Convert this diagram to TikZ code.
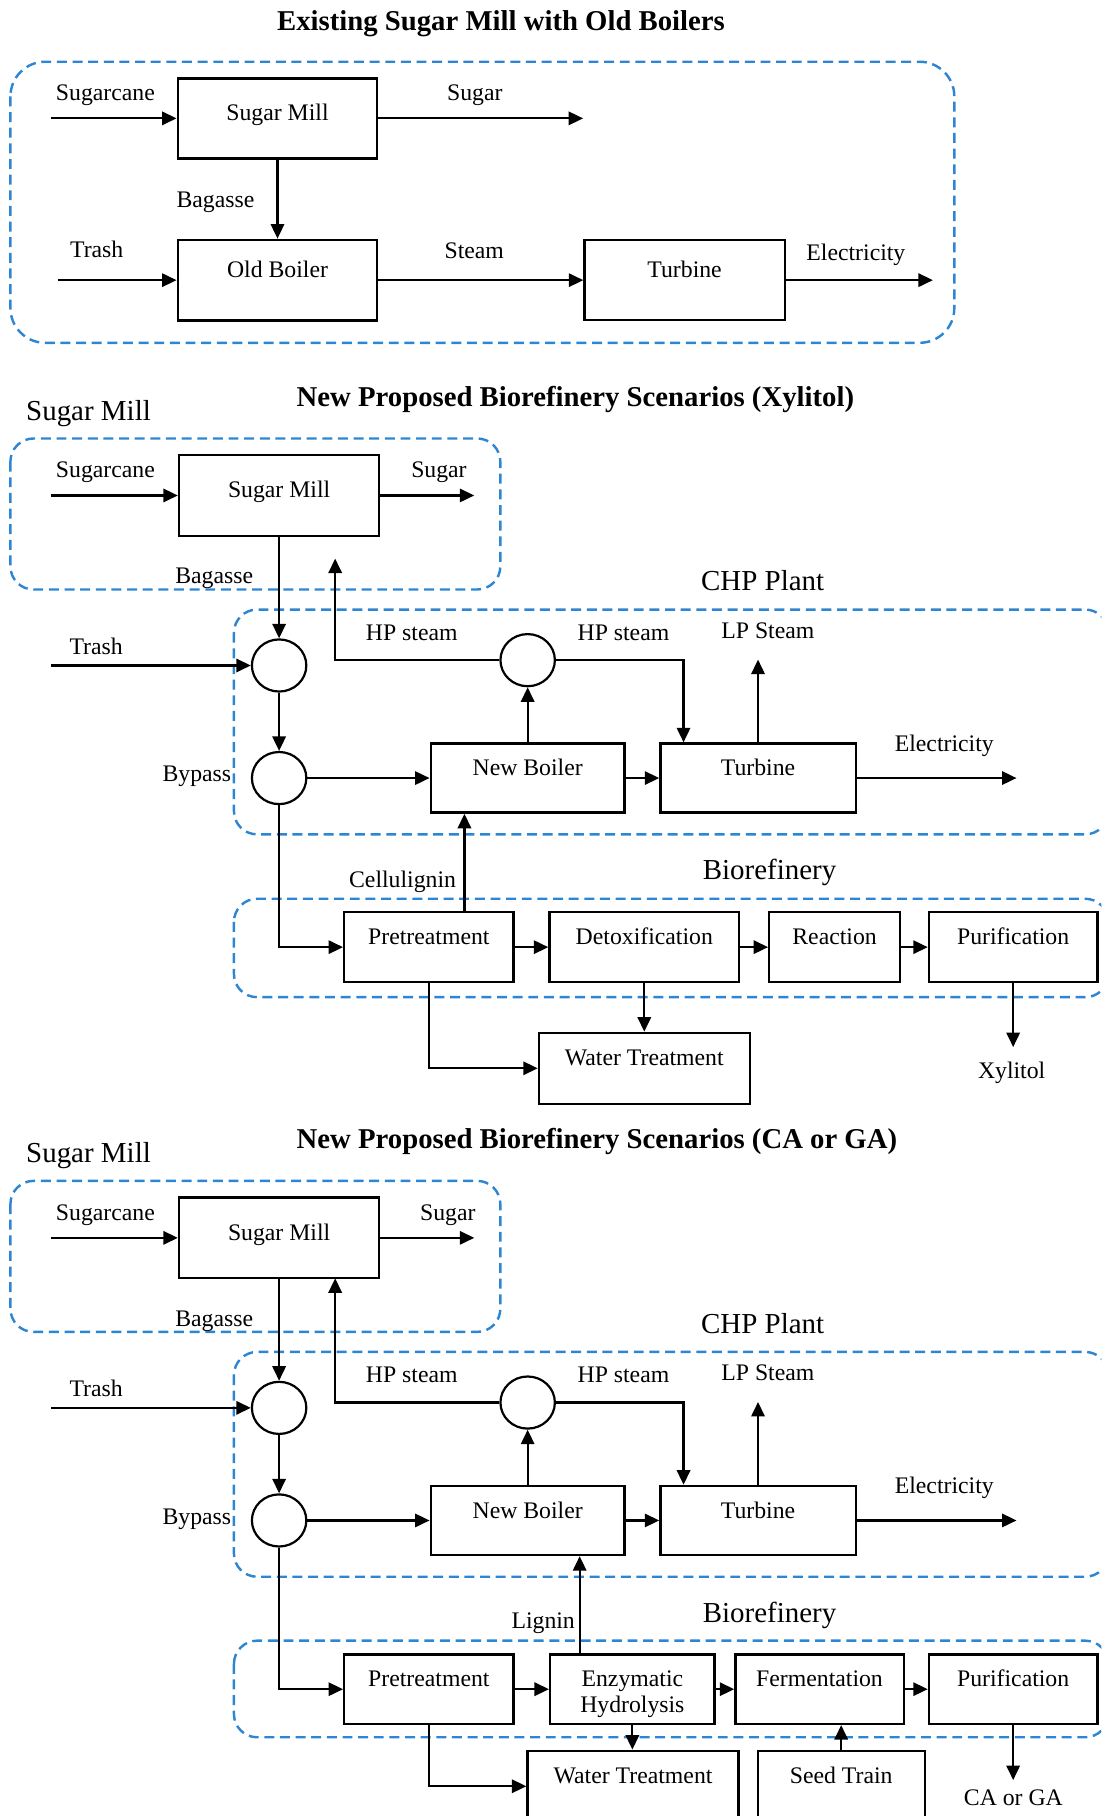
\documentclass[tikz,border=0pt]{standalone}
\usepackage{fontspec}
\setmainfont{Liberation Serif}
\usetikzlibrary{arrows.meta,shapes.geometric}
\definecolor{zoneblue}{RGB}{46,134,210}
\newcommand\bodyfont{\fontsize{20.5}{22.5}\selectfont}
\newcommand\areafont{\fontsize{25}{28}\selectfont}
\newcommand\headfont{\fontsize{24.8}{28}\selectfont\bfseries}
\tikzset{
  unit/.style={draw, line width=2pt, inner sep=0pt, font=\bodyfont,
    text height=13pt, text depth=17pt},
  millbox/.style={unit, text height=15pt, text depth=11pt},
  mixer/.style={draw, ellipse, line width=1.9pt, inner sep=0pt,
    minimum width=47pt, minimum height=45pt},
  pipe/.style={line width=1.9pt},
  flow/.style={pipe, -{Triangle[length=12.5pt,width=11.5pt]}},
  zone/.style={draw=zoneblue, line width=2.1pt, dash pattern=on 8.6pt off 4.9pt,
    rounded corners=20pt},
  tag/.style={font=\bodyfont, anchor=base, inner sep=0pt},
  area/.style={font=\areafont, anchor=base, inner sep=0pt},
  heading/.style={font=\headfont, anchor=base, inner sep=0pt},
}
\begin{document}
\begin{tikzpicture}[x=1pt, y=-1pt]
\useasboundingbox (0,0) rectangle (951,1568);
\clip (0,0) rectangle (951,1568);

% existing mill
\node[heading] (head0) at (432.6,26.5) {Existing Sugar Mill with Old Boilers};
\draw[zone, rounded corners=30pt] (9,53.3) rectangle (824,296);
\node[millbox, minimum width=172.3pt, minimum height=69.1pt] (mill0) at (239.6,102.2) {Sugar Mill};
\node[unit, minimum width=172.3pt, minimum height=69.7pt] (oldboiler) at (239.6,241.9) {Old Boiler};
\node[unit, minimum width=172.9pt, minimum height=69pt] (turb0) at (591.1,241.9) {Turbine};
\coordinate (cane0) at (44.2,102.2);
\coordinate (sugar0) at (503.5,102.2);
\coordinate (trash0) at (49.7,241.9);
\coordinate (elec0) at (805.5,241.9);
\draw[flow] (cane0) -- (mill0.west);
\draw[flow] (mill0.east) -- (sugar0);
\draw[flow] (mill0.south) -- (oldboiler.north);
\draw[flow] (trash0) -- (oldboiler.west);
\draw[flow] (oldboiler.east) -- (turb0.west);
\draw[flow] (turb0.east) -- (elec0);
\node[tag] (t-cane0) at (91,86.5) {Sugarcane};
\node[tag] (t-sugar0) at (410,87) {Sugar};
\node[tag] (t-bag0) at (186,179) {Bagasse};
\node[tag] (t-trash0) at (83.5,222) {Trash};
\node[tag] (t-steam0) at (409.5,223) {Steam};
\node[tag] (t-elec0) at (739,224.5) {Electricity};

% sugar mill and CHP plant of both scenarios
\foreach \s/\dy/\goal/\sx/\ry in {x/0/Xylitol/379/482.3, c/641/CA or GA/386.7/462.7}{
\begin{scope}[shift={(0,\dy)}]
  \node[heading, anchor=base west] (head\s) at (256,351) {New Proposed Biorefinery Scenarios (\goal)};
  \node[area, anchor=base west] (a-mill\s) at (22.4,363) {Sugar Mill};
  \node[area] (a-chp\s) at (658.5,510) {CHP Plant};
  \draw[zone] (9,378.6) rectangle (432,509);
  \draw[zone] (202,526.3) rectangle (957,720.4);
  \node[millbox, minimum width=172.9pt, minimum height=69.7pt] (mill\s) at (241,427.8) {Sugar Mill};
  \node[mixer] (mixa\s) at (241,574.6) {};
  \node[mixer] (mixb\s) at (241,671.8) {};
  \node[mixer] (split\s) at (455.6,570) {};
  \node[unit, minimum width=167.4pt, minimum height=59.7pt] (boiler\s) at (455.6,671.8) {New Boiler};
  \node[unit, minimum width=168.6pt, minimum height=59.7pt] (turb\s) at (654.5,671.8) {Turbine};
  \coordinate (cane\s) at (44.3,427.8);
  \coordinate (sugar\s) at (409.5,427.8);
  \coordinate (trash\s) at (44.3,574.6);
  \coordinate (elec\s) at (877.7,671.8);
  \coordinate (lp\s) at (654.5,569.5);
  \coordinate (ret\s) at (289.4,\ry);
  \draw[flow] (cane\s) -- (mill\s.west);
  \draw[flow] (mill\s.east) -- (sugar\s);
  \draw[flow] (mill\s.south) -- (mixa\s.north);
  \draw[flow] (trash\s) -- (mixa\s.west);
  \draw[flow] (mixa\s.south) -- (mixb\s.north);
  \draw[flow] (mixb\s.east) -- (boiler\s.west);
  \draw[flow] (boiler\s.east) -- (turb\s.west);
  \draw[flow] (turb\s.east) -- (elec\s);
  \draw[flow] (boiler\s.north) -- (split\s.south);
  \draw[flow] (split\s.east) -| ([xshift=-64.3pt]turb\s.north);
  \draw[flow] (split\s.west) -| (ret\s);
  \draw[flow] (turb\s.north) -- (lp\s);
  \node[tag] (t-cane\s) at (91,412.5) {Sugarcane};
  \node[tag] (t-sugar\s) at (\sx,412.5) {Sugar};
  \node[tag] (t-bag\s) at (185,504) {Bagasse};
  \node[tag] (t-trash\s) at (83,565) {Trash};
  \node[tag] (t-bypass\s) at (170,675) {Bypass};
  \node[tag] (t-hpa\s) at (355.5,553) {HP steam};
  \node[tag] (t-hpb\s) at (538.3,553) {HP steam};
  \node[tag] (t-lp\s) at (663,551) {LP Steam};
  \node[tag] (t-elec\s) at (815.3,648.7) {Electricity};
\end{scope}
}

% xylitol biorefinery
\node[area] (a-biox) at (664.5,759.5) {Biorefinery};
\draw[zone] (202,776) rectangle (957,861);
\node[unit, minimum width=146.2pt, minimum height=60.5pt] (pretx) at (370.3,817.8) {Pretreatment};
\node[unit, minimum width=163.8pt, minimum height=60.5pt] (detox) at (556.3,817.8) {Detoxification};
\node[unit, minimum width=112.8pt, minimum height=60.5pt] (react) at (720.6,817.8) {Reaction};
\node[unit, minimum width=145.5pt, minimum height=60.5pt] (purx) at (874.8,817.8) {Purification};
\node[unit, minimum width=182pt, minimum height=61.3pt] (wtx) at (556.3,922.4) {Water Treatment};
\coordinate (cell) at (401,0);
\coordinate (xyl) at (874.8,904.1);
\draw[flow] (mixbx.south) |- (pretx.west);
\draw[flow] (pretx.north -| cell) -- (boilerx.south -| cell);
\draw[flow] (pretx.east) -- (detox.west);
\draw[flow] (detox.east) -- (react.west);
\draw[flow] (react.east) -- (purx.west);
\draw[flow] (purx.south) -- (xyl);
\draw[flow] (pretx.south) |- (wtx.west);
\draw[flow] (detox.south) -- (wtx.north);
\node[tag] (t-cell) at (347.6,766) {Cellulignin};
\node[tag] (t-xyl) at (873.5,931.5) {Xylitol};

% CA or GA biorefinery
\node[area] (a-bioc) at (664.5,1400.7) {Biorefinery};
\draw[zone] (202,1416.6) rectangle (957,1500);
\node[unit, minimum width=146.2pt, minimum height=60pt] (pretc) at (370.3,1458.5) {Pretreatment};
\node[unit, minimum width=142pt, minimum height=60pt] (enzyme) at (546,1458.5) {\begin{tabular}[t]{@{}c@{}}Enzymatic\\Hydrolysis\end{tabular}};
\node[unit, minimum width=145.3pt, minimum height=60pt] (ferment) at (707.6,1458.5) {Fermentation};
\node[unit, minimum width=145.5pt, minimum height=60pt] (purc) at (874.8,1458.5) {Purification};
\node[unit, minimum width=182.2pt, minimum height=61.3pt] (wtc) at (546.6,1542.3) {Water Treatment};
\node[unit, minimum width=144.2pt, minimum height=61.3pt] (seed) at (726.3,1542.3) {Seed Train};
\coordinate (lig) at (500.5,0);
\coordinate (cagc) at (874.8,1537);
\draw[flow] (mixbc.south) |- (pretc.west);
\draw[flow] (enzyme.north -| lig) -- (boilerc.south -| lig);
\draw[flow] (pretc.east) -- (enzyme.west);
\draw[flow] (enzyme.east) -- (ferment.west);
\draw[flow] (ferment.east) -- (purc.west);
\draw[flow] (purc.south) -- (cagc);
\draw[flow] (pretc.south) |- (wtc.west);
\draw[flow] (enzyme.south) -- (enzyme.south |- wtc.north);
\draw[flow] (seed.north) -- (ferment.south -| seed.north);
\node[tag] (t-lig) at (469,1406.5) {Lignin};
\node[tag] (t-cagc) at (875,1559) {CA or GA};
\end{tikzpicture}
\end{document}
